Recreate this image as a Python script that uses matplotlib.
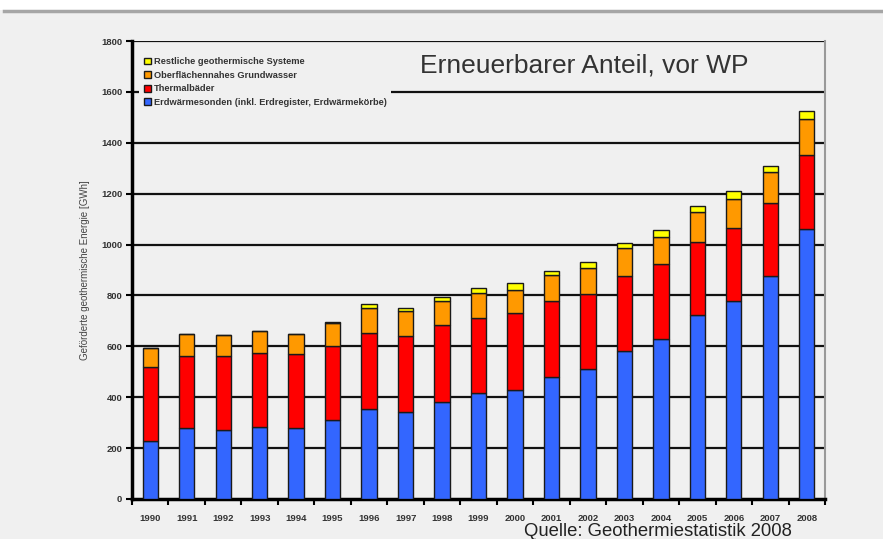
import numpy as np
import matplotlib.pyplot as plt
from matplotlib.patches import Rectangle
from matplotlib.lines import Line2D

years = [str(y) for y in range(1990, 2009)]
# GWh per Jahr
erdwaerme = [229, 278, 272, 282, 278, 312, 352, 343, 383, 418, 427, 481, 511, 582, 630, 722, 780, 877, 1060]
thermal = [291, 284, 291, 291, 291, 291, 299, 299, 300, 295, 304, 299, 295, 295, 295, 289, 285, 285, 291]
grundwasser = [75, 85, 80, 87, 81, 89, 101, 97, 95, 95, 91, 101, 101, 108, 105, 116, 113, 122, 144]
restliche = [0, 0, 0, 0, 0, 4, 13, 13, 16, 23, 27, 17, 26, 23, 26, 26, 32, 26, 31]

series = [
    ("Erdwärmesonden (inkl. Erdregister, Erdwärmekörbe)", erdwaerme, "#3366ff"),
    ("Thermalbäder", thermal, "#ff0000"),
    ("Oberflächennahes Grundwasser", grundwasser, "#ff9900"),
    ("Restliche geothermische Systeme", restliche, "#ffff00"),
]

bg = "#f0f0f0"
fig = plt.figure(figsize=(8.83, 5.39), dpi=100, facecolor=bg)
# weisser Streifen oben mit grauer Linie
fig.patches.append(Rectangle((0, 1 - 10 / 539), 1, 10 / 539, transform=fig.transFigure,
                             facecolor="white", edgecolor="none", zorder=0))
fig.lines.append(Line2D([0.004, 1], [1 - 11 / 539, 1 - 11 / 539], transform=fig.transFigure,
                        color="#a6a6a6", lw=2.5))

ax = fig.add_axes([132 / 883, 1 - 499 / 539, (825 - 132) / 883, (499 - 41) / 539])
ax.set_facecolor(bg)

x = np.arange(len(years))
bottom = np.zeros(len(years))
handles = []
for label, vals, col in series:
    b = ax.bar(x, vals, width=0.42, bottom=bottom, color=col, edgecolor="#1a1a1a",
               linewidth=1.0, zorder=3, label=label)
    bottom += np.array(vals)
    handles.append(b)

ax.set_xlim(-0.48, len(years) - 0.5)
ax.set_ylim(0, 1800)
ax.set_yticks(range(0, 1801, 200))
ax.set_yticklabels([str(v) for v in range(0, 1801, 200)])
for v in range(200, 1801, 200):
    ax.axhline(v, color="#111111", lw=1.6, zorder=1)

ax.set_xticks(x)
ax.set_xticklabels(years)
ax.set_xticks(np.arange(-0.5, len(years)), minor=True)
ax.tick_params(axis="x", which="major", length=0, pad=11)
ax.tick_params(axis="x", which="minor", length=4, width=1.5, direction="out")
ax.tick_params(axis="y", length=4, width=1.5, direction="out", pad=3)
for lab in ax.get_xticklabels() + ax.get_yticklabels():
    lab.set_fontsize(6.8)
    lab.set_fontweight("bold")
    lab.set_family("Liberation Sans")
    lab.set_color("#333333")

ax.spines["left"].set_linewidth(2.5)
ax.spines["bottom"].set_linewidth(2.5)
ax.spines["top"].set_visible(False)
ax.spines["right"].set_color("#999999")
ax.spines["right"].set_linewidth(1.5)

ax.set_ylabel("Geförderte geothermische Energie [GWh]", fontsize=7, family="Liberation Sans",
              color="#444444", labelpad=8)

leg = ax.legend(handles=handles[::-1], loc="upper left", bbox_to_anchor=(0.004, 0.985),
                frameon=True, facecolor=bg, edgecolor="none", framealpha=1,
                handlelength=0.75, handleheight=0.75, handletextpad=0.3, labelspacing=0.5,
                borderpad=0.5, prop={"family": "Liberation Sans", "size": 6.7, "weight": "bold"})
leg.set_zorder(5)
for t in leg.get_texts():
    t.set_color("#333333")

fig.text(420 / 883, 1 - 66 / 539, "Erneuerbarer Anteil, vor WP", fontsize=19,
         family="Liberation Sans", color="#333333", va="center", ha="left")
fig.text(524 / 883, 1 - 536 / 539, "Quelle: Geothermiestatistik 2008", fontsize=13.3,
         family="Liberation Sans", color="#222222", va="baseline", ha="left")

fig.savefig("out.png", dpi=100, facecolor=bg)
